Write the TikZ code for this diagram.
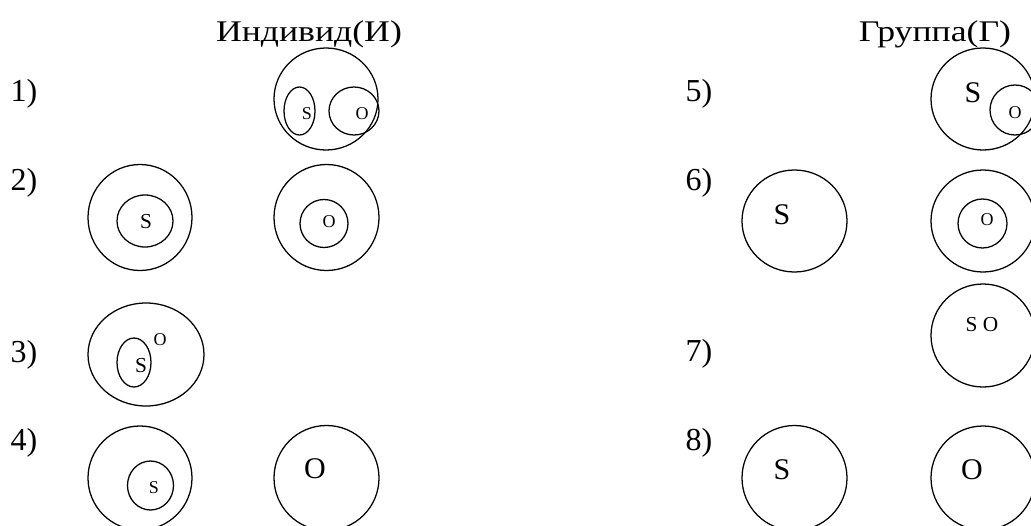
\documentclass[tikz,border=0pt]{standalone}
\usepackage{fontspec}
\setmainfont{Liberation Serif}
\usepackage{tikz}

\begin{document}
\begin{tikzpicture}[line cap=round,line join=round,x=0.75pt,y=-0.75pt,line width=0.95pt,
  smalltext/.style={font=\fontsize{13.5}{15}\selectfont,inner sep=0pt},
  midtext/.style={font=\fontsize{16}{18}\selectfont,inner sep=0pt},
  bigtext/.style={font=\fontsize{22.5}{25}\selectfont,inner sep=0pt},
  numtext/.style={font=\fontsize{24}{26}\selectfont,inner sep=0pt,anchor=base},
  titletext/.style={font=\fontsize{22.5}{25}\selectfont,inner sep=0pt,anchor=base}]
		\clip(0,0) rectangle (1031,525);
		\useasboundingbox (0,0) rectangle (1031,525);
		% headings
		\draw (309,41) node[titletext] (tind) {\scalebox{1.19}[1]{Индивид(И)}};
		\draw (935,41) node[titletext] (tgr) {\scalebox{1.19}[1]{Группа(Г)}};
		% numbers
		\draw (24,101) node[numtext] (n1) {1)};
		\draw (24,190) node[numtext] (n2) {2)};
		\draw (24,362) node[numtext] (n3) {3)};
		\draw (24,450) node[numtext] (n4) {4)};
		\draw (699,101) node[numtext] (n5) {5)};
		\draw (699,190) node[numtext] (n6) {6)};
		\draw (699,361) node[numtext] (n7) {7)};
		\draw (699,450) node[numtext] (n8) {8)};
		% 1)
		\draw (326,99) ellipse (52 and 51);
		\draw (299.5,111) ellipse (15.5 and 24);
		\draw (354,111) ellipse (25 and 24);
		\draw (307,114) node[smalltext] (s1) {S};
		\draw (362,114) node[smalltext] (o1) {O};
		% 2)
		\draw (140,217.5) ellipse (52 and 53);
		\draw (145,221) ellipse (28 and 26);
		\draw (146,222) node[midtext] (s2) {S};
		\draw (326.5,217.5) ellipse (52.5 and 53);
		\draw (324,223.5) circle (24);
		\draw (329,222) node[smalltext] (o2) {O};
		% 3)
		\draw (146,354.5) ellipse (58 and 51.5);
		\draw (134,362.5) ellipse (17 and 24.5);
		\draw (141,366) node[midtext] (s3) {S};
		\draw (160,340) node[smalltext] (o3) {O};
		% 4)
		\draw (140,478) ellipse (52 and 52);
		\draw (150.5,485.5) ellipse (23 and 24.5);
		\draw (154,488) node[smalltext] (s4) {S};
		\draw (326.5,478) circle (52.5);
		\draw (315,469) node[bigtext] (o4) {O};
		% 5)
		\draw (983,99) ellipse (52 and 51);
		\draw (1015,110) circle (25);
		\draw (973,93) node[bigtext] (s5) {S};
		\draw (1015,113) node[smalltext] (o5) {O};
		% 6)
		\draw (794.5,221) ellipse (52.5 and 51);
		\draw (782,215) node[bigtext] (s6) {S};
		\draw (983,221) ellipse (52 and 51);
		\draw (982.5,223.5) circle (24.5);
		\draw (987,220) node[smalltext] (o6) {O};
		% 7)
		\draw (983,335.5) ellipse (52 and 51.5);
		\draw (982,325) node[midtext] (so7) {S\hspace{0.25em}O};
		% 8)
		\draw (794.5,478) circle (52.5);
		\draw (782,470) node[bigtext] (s8) {S};
		\draw (983,478) circle (52);
		\draw (972,470) node[bigtext] (o8) {O};
		\end{tikzpicture}
\end{document}
